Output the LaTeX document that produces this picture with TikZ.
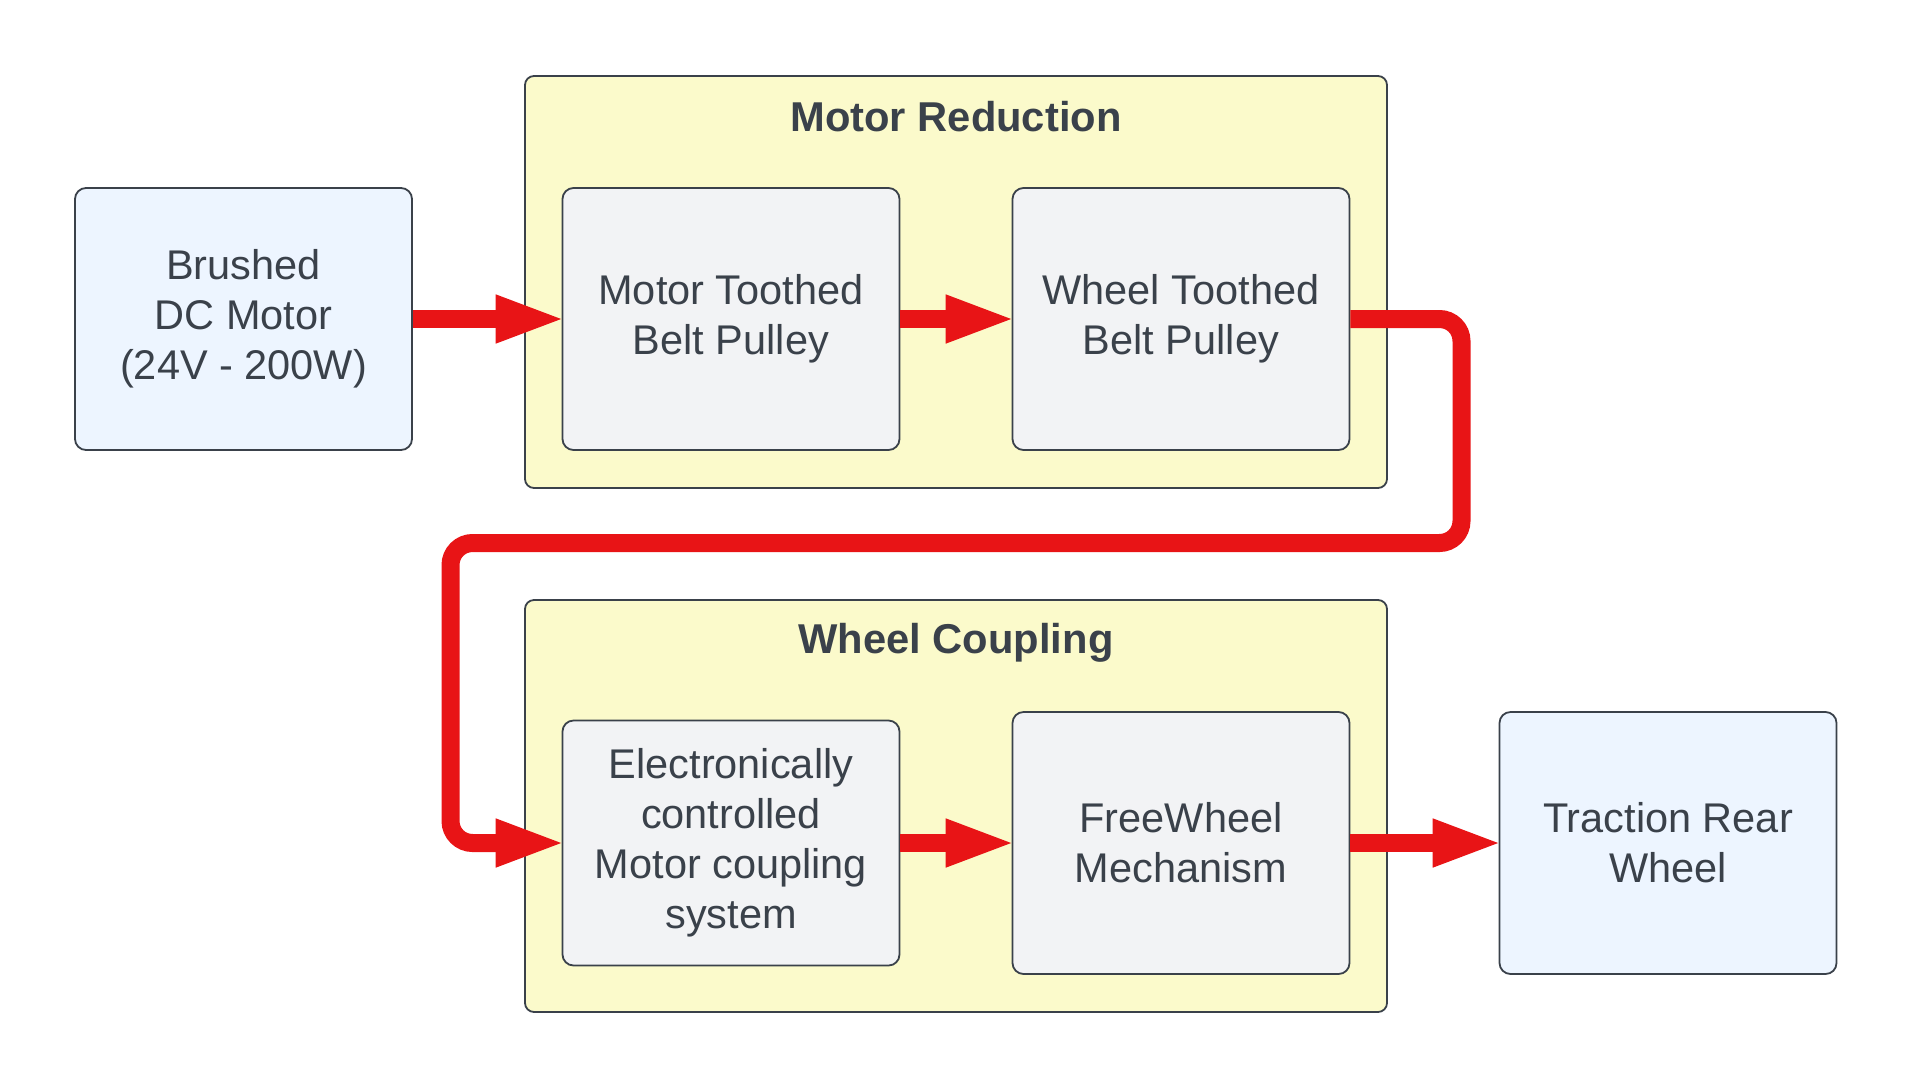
\documentclass[tikz,border=0pt]{standalone}
\usepackage{fontspec}
\setmainfont{Liberation Sans}
\usetikzlibrary{arrows.meta}
\definecolor{linegray}{RGB}{58,65,74}
\definecolor{bluefill}{RGB}{237,245,255}
\definecolor{grayfill}{RGB}{242,243,245}
\definecolor{yellowfill}{RGB}{251,250,203}
\definecolor{flowred}{RGB}{232,20,22}
\tikzstyle{group} = [rectangle, rounded corners = 9pt, minimum width = 862pt, minimum height = 412pt, draw = linegray, line width = 1.8pt, fill = yellowfill]
\tikzstyle{grouptitle} = [text = linegray, font = \fontsize{41.7}{50}\selectfont\bfseries]
\tikzstyle{endpoint} = [rectangle, rounded corners = 11pt, minimum width = 337pt, minimum height = 262pt, text centered, align = center, draw = linegray, line width = 1.8pt, fill = bluefill, text = linegray, font = \fontsize{41.5}{50}\selectfont]
\tikzstyle{part} = [rectangle, rounded corners = 11pt, minimum width = 337pt, minimum height = 262pt, text centered, align = center, draw = linegray, line width = 1.8pt, fill = grayfill, text = linegray, font = \fontsize{41.5}{50}\selectfont]
\tikzstyle{arrow} = [line width = 18pt, draw = flowred, shorten > = -5pt, -{Triangle[length = 71pt, width = 43pt]}]
\begin{document}
\begin{tikzpicture}[x = 1pt, y = -1pt]
    \useasboundingbox (0,0) rectangle (1913,1088);

    \node(reduction)[group] at (956,282){};
    \node(redtitle)[grouptitle] at (956,117){Motor Reduction};
    \node(coupling)[group] at (956,806){};
    \node(coutitle)[grouptitle] at (956,643){Wheel Coupling};

    \node(motor)[endpoint] at (243.5,319){Brushed\\DC Motor\\(24V - 200W)};
    \node(mpulley)[part] at (731,319){Motor Toothed\\Belt Pulley};
    \node(wpulley)[part] at (1181,319){Wheel Toothed\\Belt Pulley};
    \node(ecoupling)[part, minimum height = 245pt] at (731,843){Electronically\\controlled\\Motor coupling\\system};
    \node(freewheel)[part] at (1181,843){FreeWheel\\Mechanism};
    \node(rear)[endpoint] at (1668,843){Traction Rear\\Wheel};

    \coordinate(turnright) at (1461.5,543);
    \coordinate(turnleft) at (450.5,543);

    \draw[arrow](motor)--(mpulley);
    \draw[arrow](mpulley)--(wpulley);
    \draw[arrow, rounded corners = 22pt](wpulley.east)-|(turnright)--(turnleft)|-(ecoupling.west);
    \draw[arrow](ecoupling)--(freewheel);
    \draw[arrow](freewheel)--(rear);
\end{tikzpicture}
\end{document}
